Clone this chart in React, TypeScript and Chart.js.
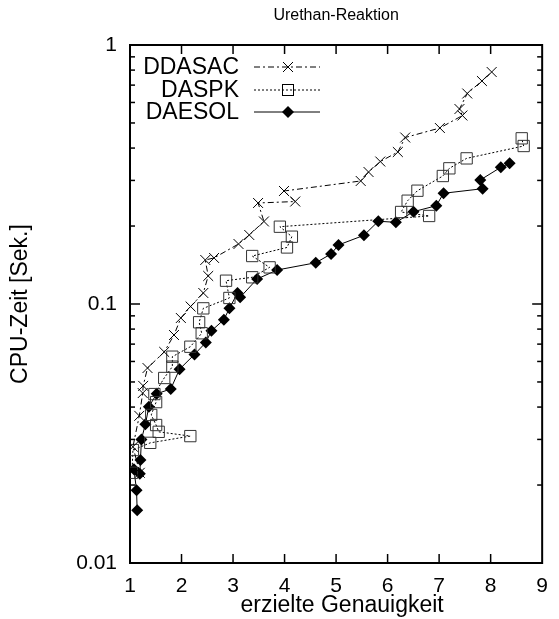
import React, { useEffect, useRef } from "react";
import { Chart, registerables } from "chart.js";

Chart.register(...registerables);

// Achsen
const xTickValues = [1, 2, 3, 4, 5, 6, 7, 8, 9];
const yTickValues = [0.01, 0.1, 1];

// DDASAC
const ddasacX = [1.19, 1.057, 1.18, 1.247, 1.256, 1.34, 1.664, 1.854, 1.987, 2.176, 2.423, 2.518, 2.461, 2.632, 3.106, 3.315, 3.6, 3.486, 4.207, 3.989, 5.478, 5.63, 5.858, 6.199, 6.342, 7.015, 7.452, 7.395, 7.546, 7.831, 8.02];
const ddasacY = [0.0223, 0.0281, 0.037, 0.0453, 0.0483, 0.0566, 0.0653, 0.0759, 0.0883, 0.0978, 0.1103, 0.1283, 0.1479, 0.1506, 0.1705, 0.1847, 0.2083, 0.2455, 0.2487, 0.2731, 0.2985, 0.3233, 0.3549, 0.3862, 0.4394, 0.4781, 0.5342, 0.5661, 0.6497, 0.7261, 0.7866];

// DASPK
const daspkX = [1.038, 1.057, 1.393, 2.171, 1.557, 1.507, 1.412, 1.507, 1.474, 1.664, 1.822, 1.822, 2.171, 2.392, 2.342, 2.423, 2.929, 2.864, 3.372, 3.71, 3.372, 4.047, 4.142, 3.909, 6.806, 6.262, 6.389, 6.579, 7.072, 7.199, 7.534, 8.641, 8.603];
const daspkY = [0.0223, 0.0273, 0.0291, 0.0309, 0.0321, 0.0341, 0.0373, 0.0418, 0.0449, 0.0518, 0.0573, 0.0626, 0.0684, 0.0771, 0.085, 0.0962, 0.1055, 0.123, 0.1268, 0.1385, 0.1532, 0.1653, 0.1819, 0.1988, 0.2187, 0.2266, 0.2505, 0.2738, 0.312, 0.3341, 0.365, 0.4074, 0.4362];

// DAESOL
const daesolX = [1.139, 1.127, 1.076, 1.19, 1.203, 1.222, 1.298, 1.366, 1.518, 1.791, 1.962, 2.252, 2.471, 2.581, 2.822, 2.93, 3.087, 3.138, 3.467, 3.856, 4.605, 4.903, 5.047, 5.541, 5.82, 6.161, 6.503, 6.945, 7.086, 7.844, 7.799, 8.197, 8.368];
const daesolY = [0.016, 0.0191, 0.023, 0.0221, 0.025, 0.03, 0.0343, 0.0401, 0.045, 0.047, 0.056, 0.0639, 0.071, 0.0788, 0.087, 0.0962, 0.1103, 0.1061, 0.1249, 0.1353, 0.1443, 0.156, 0.169, 0.1842, 0.2087, 0.2067, 0.2272, 0.2396, 0.2676, 0.2787, 0.3012, 0.3371, 0.3493];

const seriesNames = ["DDASAC", "DASPK", "DAESOL"];
const titleText = "Urethan-Reaktion";
const xTitle = "erzielte Genauigkeit";
const yTitle = "CPU-Zeit [Sek.]";

const FONT = "'Liberation Sans', Arial, Helvetica, sans-serif";
const DASH_DOT = [6, 3, 2, 3];
const DOTTED = [2, 2];

const toPoints = (xs: number[], ys: number[]) => xs.map((x, i) => ({ x, y: ys[i] }));

function drawMarker(ctx: CanvasRenderingContext2D, kind: number, x: number, y: number) {
  ctx.save();
  ctx.setLineDash([]);
  ctx.lineWidth = 1;
  ctx.strokeStyle = "#000";
  ctx.fillStyle = "#000";
  if (kind === 0) {
    const r = 5;
    ctx.beginPath();
    ctx.moveTo(x - r, y - r);
    ctx.lineTo(x + r, y + r);
    ctx.moveTo(x - r, y + r);
    ctx.lineTo(x + r, y - r);
    ctx.stroke();
  } else if (kind === 1) {
    ctx.strokeRect(x - 5.5, y - 5.5, 11, 11);
  } else {
    const r = 6;
    ctx.beginPath();
    ctx.moveTo(x, y - r);
    ctx.lineTo(x + r, y);
    ctx.lineTo(x, y + r);
    ctx.lineTo(x - r, y);
    ctx.closePath();
    ctx.fill();
  }
  ctx.restore();
}

const decorPlugin = {
  id: "decor",
  beforeDatasetsDraw(chart: any) {
    const { ctx, chartArea: a, scales } = chart;
    const xs = scales.x;
    const ys = scales.y;
    ctx.save();
    ctx.strokeStyle = "#000";
    ctx.lineWidth = 1.5;
    const seg = (x1: number, y1: number, x2: number, y2: number) => {
      ctx.beginPath();
      ctx.moveTo(x1, y1);
      ctx.lineTo(x2, y2);
      ctx.stroke();
    };
    // Teilstriche unten und oben
    xTickValues.slice(1, -1).forEach((v) => {
      const px = xs.getPixelForValue(v);
      seg(px, a.bottom, px, a.bottom - 9);
      seg(px, a.top, px, a.top + 9);
    });
    // logarithmische Teilstriche links und rechts
    [0.01, 0.1].forEach((dec) => {
      for (let m = 1; m <= 9; m++) {
        const v = dec * m;
        if (v <= 0.01 + 1e-9) continue;
        const py = ys.getPixelForValue(v);
        const len = m === 1 ? 10 : 5;
        seg(a.left, py, a.left + len, py);
        seg(a.right, py, a.right - len, py);
      }
    });
    ctx.lineWidth = 2;
    ctx.strokeRect(a.left, a.top, a.right - a.left, a.bottom - a.top);
    ctx.restore();
  },
  afterDatasetsDraw(chart: any) {
    const { ctx, chartArea: a } = chart;
    ctx.save();
    ctx.fillStyle = "#000";
    // Titel
    ctx.font = `16px ${FONT}`;
    ctx.textAlign = "center";
    ctx.textBaseline = "middle";
    ctx.fillText(titleText, (a.left + a.right) / 2, 16);
    // x-Achsentitel
    ctx.font = `23px ${FONT}`;
    ctx.fillText(xTitle, (a.left + a.right) / 2 + 6, 606);
    // y-Achsentitel
    ctx.save();
    ctx.translate(21, (a.top + a.bottom) / 2);
    ctx.rotate(-Math.PI / 2);
    ctx.fillText(yTitle, 0, 0);
    ctx.restore();
    // Legende
    const rows = [67, 90, 112];
    const dashes = [DASH_DOT, DOTTED, []];
    rows.forEach((ry, i) => {
      ctx.font = `23px ${FONT}`;
      ctx.textAlign = "right";
      ctx.textBaseline = "middle";
      ctx.fillText(seriesNames[i], 239, ry + 1);
      ctx.save();
      ctx.strokeStyle = "#000";
      ctx.lineWidth = 1;
      ctx.setLineDash(dashes[i]);
      ctx.beginPath();
      ctx.moveTo(254, ry);
      ctx.lineTo(320, ry);
      ctx.stroke();
      ctx.restore();
      drawMarker(ctx, i, 288, ry);
    });
    ctx.restore();
  },
};

export default function App() {
  const canvasRef = useRef<HTMLCanvasElement | null>(null);

  useEffect(() => {
    const canvas = canvasRef.current;
    if (!canvas) return;
    const chart = new Chart(canvas, {
      type: "scatter",
      data: {
        datasets: [
          {
            label: seriesNames[0],
            data: toPoints(ddasacX, ddasacY),
            showLine: true,
            borderColor: "#000",
            borderWidth: 1,
            borderDash: DASH_DOT,
            pointStyle: "crossRot",
            pointRadius: 7,
            pointBorderWidth: 1,
            pointBorderColor: "#000",
            backgroundColor: "transparent",
          },
          {
            label: seriesNames[1],
            data: toPoints(daspkX, daspkY),
            showLine: true,
            borderColor: "#000",
            borderWidth: 1,
            borderDash: DOTTED,
            pointStyle: "rect",
            pointRadius: 8,
            pointBorderWidth: 1,
            pointBorderColor: "#333",
            pointBackgroundColor: "transparent",
            backgroundColor: "transparent",
          },
          {
            label: seriesNames[2],
            data: toPoints(daesolX, daesolY),
            showLine: true,
            borderColor: "#000",
            borderWidth: 1,
            pointStyle: "rectRot",
            pointRadius: 6,
            pointBorderWidth: 0,
            pointBackgroundColor: "#000",
            backgroundColor: "#000",
          },
        ],
      },
      options: {
        responsive: false,
        animation: false,
        events: [],
        layout: { padding: { top: 45, right: 7, left: 0, bottom: 0 } },
        plugins: {
          legend: { display: false },
          tooltip: { enabled: false },
          title: { display: false },
        },
        scales: {
          x: {
            type: "linear",
            min: 1,
            max: 9,
            afterBuildTicks: (s: any) => {
              s.ticks = xTickValues.map((v) => ({ value: v }));
            },
            afterFit: (s: any) => {
              s.height = 56;
            },
            grid: { display: false, drawTicks: false },
            border: { display: false },
            ticks: {
              padding: 11,
              color: "#000",
              font: { family: FONT, size: 21 },
              maxRotation: 0,
              autoSkip: false,
            },
          },
          y: {
            type: "logarithmic",
            min: 0.01,
            max: 1,
            afterBuildTicks: (s: any) => {
              s.ticks = yTickValues.map((v) => ({ value: v }));
            },
            afterFit: (s: any) => {
              s.width = 130;
            },
            grid: { display: false, drawTicks: false },
            border: { display: false },
            ticks: {
              padding: 13,
              color: "#000",
              font: { family: FONT, size: 21 },
              autoSkip: false,
              callback: (v: any) => String(v),
            },
          },
        },
      },
      plugins: [decorPlugin],
    });
    return () => chart.destroy();
  }, []);

  return (
    <div style={{ position: "fixed", left: 0, top: 0, width: 559, height: 619, background: "#fff" }}>
      <canvas ref={canvasRef} width={559} height={619} />
    </div>
  );
}
